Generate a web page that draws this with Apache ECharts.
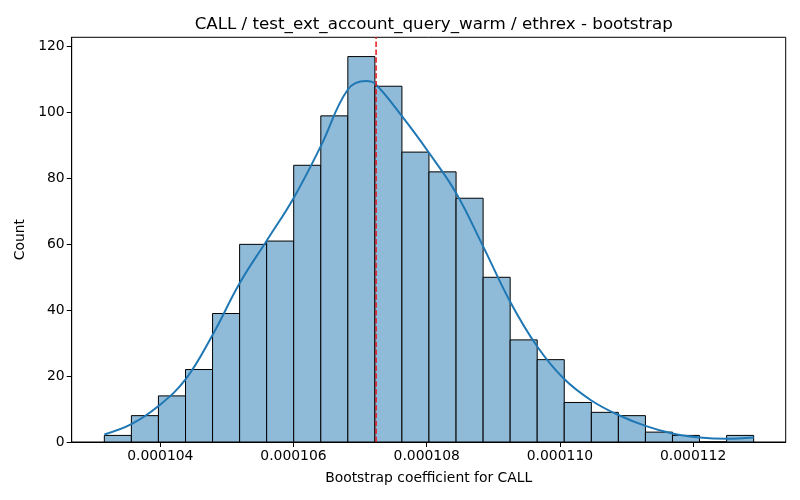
<!DOCTYPE html>
<html>
<head>
<meta charset="utf-8">
<script src="https://cdn.jsdelivr.net/npm/echarts@6/dist/echarts.min.js"></script>
<style>
  html, body { margin: 0; padding: 0; background: #fff; }
  #chart { width: 800px; height: 500px; }
</style>
</head>
<body>
<div id="chart"></div>
<script>
// histogram bins (left edges + last right edge) and counts
var binEdges = [
  0.00010316, 0.000103566, 0.000103972, 0.000104379, 0.000104785,
  0.000105191, 0.000105597, 0.000106003, 0.00010641, 0.000106816,
  0.000107222, 0.000107628, 0.000108034, 0.000108441, 0.000108847,
  0.000109253, 0.000109659, 0.000110065, 0.000110472, 0.000110878,
  0.000111284, 0.00011169, 0.000112096, 0.000112503, 0.000112909
];
var counts = [2, 8, 14, 22, 39, 60, 61, 84, 99, 117, 108, 88, 82, 74, 50, 31, 25, 12, 9, 8, 3, 2, 0, 2];

// kde curve
var kdeX = [
  0.00010316, 0.000103566, 0.000103972, 0.000104379, 0.000104785,
  0.000105191, 0.000105597, 0.000106003, 0.00010641, 0.000106816,
  0.00010709, 0.000107222, 0.000107628, 0.000108034, 0.000108441,
  0.000108847, 0.000109253, 0.000109659, 0.000110065, 0.000110472,
  0.000110878, 0.000111284, 0.00011169, 0.000112096, 0.000112503, 0.000112909
];
var kdeY = [2.3, 5.4, 10.9, 19.0, 32.5, 48.2, 61.1, 74.1, 89.8, 107, 109.6, 108.8, 98.9, 87.8, 75.6, 59.4, 42.6, 29, 19.1, 12.6, 8.2, 4.9, 2.6, 1.4, 1.0, 1.4];

var meanLine = 0.00010724;

var xTicks = [0.000104, 0.000106, 0.000108, 0.00011, 0.000112];
var yTicks = [0, 20, 40, 60, 80, 100, 120];

var xMin = 0.00010267, xMax = 0.00011339;
var yMax = 122.85;

var barData = counts.map(function (c, i) {
  return [binEdges[i], binEdges[i + 1], c];
});
var kdeData = kdeX.map(function (x, i) { return [x, kdeY[i]]; });

var font = 'DejaVu Sans';
var chart = echarts.init(document.getElementById('chart'), null, { renderer: 'canvas' });

var option = {
  animation: false,
  backgroundColor: '#fff',
  title: {
    text: 'CALL / test_ext_account_query_warm / ethrex - bootstrap',
    left: 428.7,
    top: 11,
    textAlign: 'center',
    textStyle: { fontFamily: font, fontSize: 16.7, fontWeight: 'normal', color: '#000' }
  },
  grid: {
    left: 71.7, right: 14.3, top: 37.3, bottom: 58,
    show: true, borderColor: '#000', borderWidth: 1, backgroundColor: 'transparent'
  },
  xAxis: {
    type: 'value',
    min: xMin,
    max: xMax,
    name: 'Bootstrap coefficient for CALL',
    nameLocation: 'middle',
    nameGap: 29,
    nameTextStyle: { fontFamily: font, fontSize: 13.9, color: '#000' },
    axisLine: { show: true, onZero: false, lineStyle: { color: '#000', width: 1 } },
    axisTick: { show: true, length: 5, lineStyle: { color: '#000' }, customValues: xTicks },
    axisLabel: {
      fontFamily: font, fontSize: 13.9, color: '#000', margin: 7,
      customValues: xTicks,
      formatter: function (v) { return v.toFixed(6); }
    },
    splitLine: { show: false }
  },
  yAxis: {
    type: 'value',
    min: 0,
    max: yMax,
    name: 'Count',
    nameLocation: 'middle',
    nameGap: 42,
    nameTextStyle: { fontFamily: font, fontSize: 13.9, color: '#000' },
    axisLine: { show: true, lineStyle: { color: '#000', width: 1 } },
    axisTick: { show: true, length: 5, lineStyle: { color: '#000' }, customValues: yTicks },
    axisLabel: { fontFamily: font, fontSize: 13.9, color: '#000', margin: 7, customValues: yTicks },
    splitLine: { show: false }
  },
  series: [
    {
      type: 'custom',
      data: barData,
      z: 2,
      renderItem: function (params, api) {
        var p0 = api.coord([api.value(0), api.value(2)]);
        var p1 = api.coord([api.value(1), 0]);
        return {
          type: 'rect',
          shape: { x: p0[0], y: p0[1], width: p1[0] - p0[0], height: p1[1] - p0[1] },
          style: { fill: '#8fbbd9', stroke: '#000', lineWidth: 1 }
        };
      }
    },
    {
      type: 'line',
      data: kdeData,
      z: 3,
      smooth: 0.4,
      showSymbol: false,
      lineStyle: { color: '#1f77b4', width: 2 }
    },
    {
      // vertical dashed reference line
      type: 'line',
      data: [[meanLine, 0], [meanLine, yMax]],
      z: 5,
      showSymbol: false,
      silent: true,
      lineStyle: { color: '#e8161a', type: [5.5, 2.4], width: 1.5 }
    }
  ]
};

chart.setOption(option);
</script>
</body>
</html>
